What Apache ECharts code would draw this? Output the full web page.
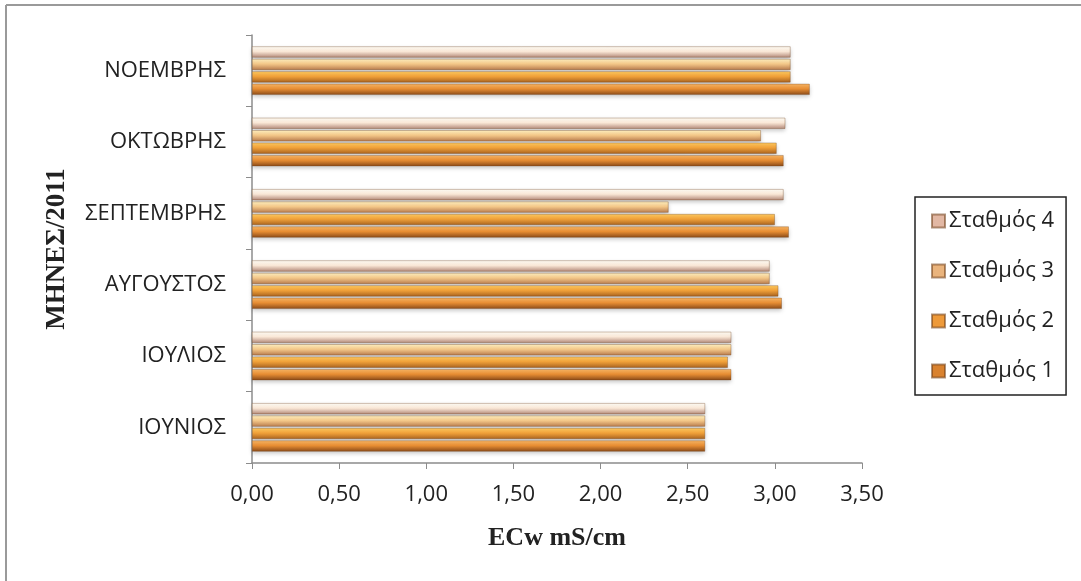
<!DOCTYPE html>
<html>
<head>
<meta charset="utf-8">
<script src="https://cdn.jsdelivr.net/npm/echarts@6/dist/echarts.min.js"></script>
<style>
  html, body { margin: 0; padding: 0; background: #fff; }
  #chart { width: 1081px; height: 581px; }
</style>
</head>
<body>
<div id="chart"></div>
<script>
// Months of 2011 (bottom to top on the category axis)
const months = ['ΙΟΥΝΙΟΣ', 'ΙΟΥΛΙΟΣ', 'ΑΥΓΟΥΣΤΟΣ', 'ΣΕΠΤΕΜΒΡΗΣ', 'ΟΚΤΩΒΡΗΣ', 'ΝΟΕΜΒΡΗΣ'];

// ECw (mS/cm) per station
const station1 = [2.60, 2.75, 3.04, 3.08, 3.05, 3.20];
const station2 = [2.60, 2.73, 3.02, 3.00, 3.01, 3.09];
const station3 = [2.60, 2.75, 2.97, 2.39, 2.92, 3.09];
const station4 = [2.60, 2.75, 2.97, 3.05, 3.06, 3.09];

const stationNames = ['Σταθμός 1', 'Σταθμός 2', 'Σταθμός 3', 'Σταθμός 4'];

// vertical shaded fills giving the bars a rounded look
function tube(top, mid, bottom) {
  return new echarts.graphic.LinearGradient(0, 0, 0, 1, [
    { offset: 0, color: top },
    { offset: 0.45, color: mid },
    { offset: 1, color: bottom }
  ]);
}
const fills = [
  tube('#f9b766', '#e98f34', '#8a4a18'),
  tube('#ffcc60', '#f2a23a', '#a8621f'),
  tube('#fff0c0', '#f5c98a', '#b77a4c'),
  tube('#fffdf6', '#fbe9d8', '#b28878')
];
const legendFills = ['#d9822f', '#ee9a3a', '#eab47d', '#e2b8a4'];

const seriesData = [station1, station2, station3, station4];
const font = '"Open Sans", "Noto Sans", sans-serif';
const serif = '"Liberation Serif", "DejaVu Serif", serif';

// station 4 is laid out first so it sits on top of each group, station 1 at the bottom
const order = [3, 2, 1, 0];

const chart = echarts.init(document.getElementById('chart'));
chart.setOption({
  animation: false,
  grid: { left: 252, right: 219, top: 35, bottom: 118 },
  legend: {
    orient: 'vertical',
    left: 915,
    top: 197,
    data: order.map(i => ({ name: stationNames[i], itemStyle: { color: legendFills[i] } })),
    itemWidth: 13,
    itemHeight: 13,
    itemGap: 28,
    icon: 'rect',
    borderColor: '#222',
    borderWidth: 1.5,
    padding: [13, 12, 13, 16],
    textStyle: { fontFamily: font, fontSize: 22, color: '#222', padding: [0, 0, 0, -1] }
  },
  xAxis: {
    type: 'value',
    min: 0,
    max: 3.5,
    interval: 0.5,
    name: 'ECw mS/cm',
    nameLocation: 'middle',
    nameGap: 62,
    nameTextStyle: { fontFamily: serif, fontWeight: 'bold', fontSize: 26, color: '#222' },
    axisLine: { show: true, lineStyle: { color: '#8c8c8c', width: 1.5 } },
    axisTick: { show: true, length: 6, lineStyle: { color: '#8c8c8c' } },
    splitLine: { show: false },
    axisLabel: {
      margin: 21,
      fontFamily: font,
      fontSize: 22,
      color: '#222',
      formatter: v => v.toFixed(2).replace('.', ',')
    }
  },
  yAxis: {
    type: 'category',
    data: months,
    name: 'ΜΗΝΕΣ/2011',
    nameLocation: 'middle',
    nameGap: 181,
    nameRotate: 90,
    nameTextStyle: { fontFamily: serif, fontWeight: 'bold', fontSize: 27, color: '#222' },
    axisLine: { show: true, lineStyle: { color: '#8c8c8c', width: 1.5 } },
    axisTick: { show: true, length: 6, lineStyle: { color: '#8c8c8c' } },
    axisLabel: { margin: 26, fontFamily: font, fontSize: 22, color: '#222' }
  },
  series: order.map(i => ({
    name: stationNames[i],
    type: 'bar',
    data: seriesData[i],
    barGap: '12%',
    barCategoryGap: '32%',
    itemStyle: {
      color: fills[i],
      borderColor: 'rgba(110,60,20,0.55)',
      borderWidth: 0.6,
      shadowColor: 'rgba(0,0,0,0.22)',
      shadowBlur: 4,
      shadowOffsetY: 2
    }
  })),
  graphic: [
    { type: 'line', shape: { x1: 6, y1: 5, x2: 6, y2: 581 }, style: { stroke: '#9a9a9a', lineWidth: 2 } },
    { type: 'line', shape: { x1: 6, y1: 5, x2: 1081, y2: 5 }, style: { stroke: '#9a9a9a', lineWidth: 2 } }
  ]
});
</script>
</body>
</html>
